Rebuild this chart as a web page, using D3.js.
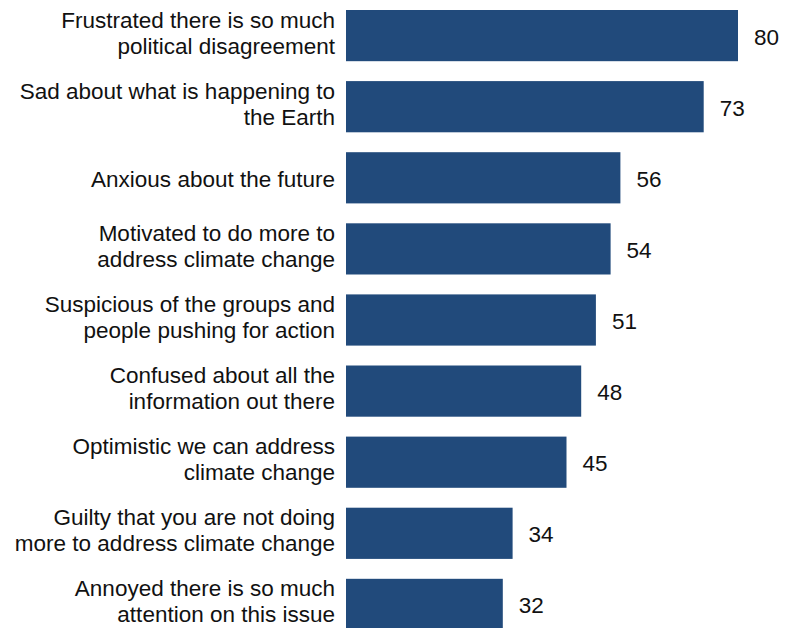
<!DOCTYPE html>
<html><head><meta charset="utf-8">
<script src="https://cdn.jsdelivr.net/npm/d3@7"></script>
<style>body{margin:0;background:#fff}</style>
</head><body>
<script>
const categories = [
  ["Frustrated there is so much","political disagreement"],
  ["Sad about what is happening to","the Earth"],
  ["Anxious about the future"],
  ["Motivated to do more to","address climate change"],
  ["Suspicious of the groups and","people pushing for action"],
  ["Confused about all the","information out there"],
  ["Optimistic we can address","climate change"],
  ["Guilty that you are not doing","more to address climate change"],
  ["Annoyed there is so much","attention on this issue"]
];
const values = [80,73,56,54,51,48,45,34,32];

const W = 787, H = 628;
const svg = d3.select("body").append("svg").attr("width", W).attr("height", H);
const font = "'Liberation Sans', Arial, sans-serif";
const x = d3.scaleLinear().domain([0,80]).range([346,738]);
const y = d3.scaleBand().domain(d3.range(values.length)).range([10,630]).paddingInner(0.28).paddingOuter(0);

svg.selectAll("rect.bar").data(values).enter().append("rect")
  .attr("x", x(0)).attr("y",(d,i)=>y(i)).attr("width",d=>x(d)-x(0)).attr("height",y.bandwidth())
  .attr("fill","#214a7b");

const lab = svg.selectAll("text.cat").data(categories).enter().append("text")
  .attr("text-anchor","end").attr("font-family",font).attr("font-size",22.5).attr("fill","#111");
lab.each(function(lines,i){
  const t=d3.select(this), cy=y(i)+y.bandwidth()/2, lh=26;
  const y0=cy-(lines.length-1)*lh/2+(lines.length>1?5:9);
  lines.forEach((l,k)=>t.append("tspan").attr("x",335).attr("y",y0+k*lh).text(l));
});

svg.selectAll("text.val").data(values).enter().append("text")
  .attr("font-family",font).attr("font-size",22.5).attr("fill","#111")
  .attr("y",(d,i)=>y(i)+y.bandwidth()/2+9).attr("x",d=>x(d)+16).text(d=>d);
</script>
</body></html>
